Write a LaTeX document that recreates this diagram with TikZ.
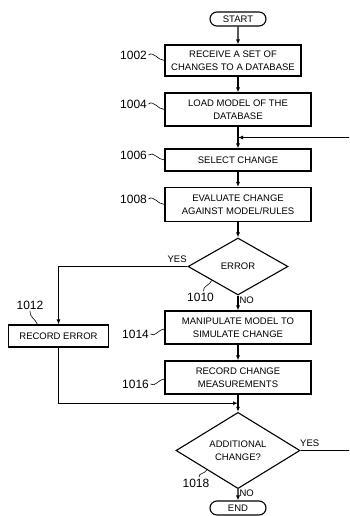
\documentclass[tikz,border=0pt]{standalone}
\usepackage{fontspec}
\setmainfont{Liberation Sans}
\usetikzlibrary{arrows.meta,positioning,shapes.geometric,shapes.misc,calc}

\begin{document}
\begin{tikzpicture}[x=1pt,y=1pt,>={Latex[length=5pt,width=4pt]},line width=1.1pt,
        font=\fontsize{9.5}{12.5}\selectfont,
        term/.style={draw,rounded rectangle,minimum width=56pt,minimum height=14pt,inner sep=0pt},
        proc/.style={draw,rectangle,minimum width=146pt,minimum height=33pt,inner sep=1pt,align=center},
        test/.style={draw,diamond,inner sep=0pt,align=center},
        tag/.style={inner sep=1pt},
        ref/.style={inner sep=1pt,font=\fontsize{12}{14}\selectfont},
        wiggle/.style={line width=0.6pt}]

        \clip (0,0) rectangle (349,-516);

        \node[term]  (start) at (238,-19)                                   {START};
        \node[proc]  (b1002) [below of=start, node distance=41.5pt, xshift=-5pt,
                              minimum width=136pt, minimum height=31pt]     {RECEIVE A SET OF\\CHANGES TO A DATABASE};
        \node[proc]  (b1004) [below of=b1002, node distance=49pt, xshift=5pt] {LOAD MODEL OF THE\\DATABASE};
        \node[proc]  (b1006) [below of=b1004, node distance=50.5pt, minimum height=22pt] {SELECT CHANGE};
        \node[proc]  (b1008) [below of=b1006, node distance=44.5pt, minimum height=34pt] {EVALUATE CHANGE\\AGAINST MODEL/RULES};
        \node[test]  (d1010) [below of=b1008, node distance=62pt,
                              minimum width=100pt, minimum height=57pt]     {ERROR};
        \node[proc]  (b1014) [below of=d1010, node distance=61pt]           {MANIPULATE MODEL TO\\SIMULATE CHANGE};
        \node[proc]  (b1016) [below of=b1014, node distance=50pt]           {RECORD CHANGE\\MEASUREMENTS};
        \node[test]  (d1018) [below of=b1016, node distance=73pt,
                              minimum width=124pt, minimum height=67pt]     {ADDITIONAL\\CHANGE?};
        \node[term]  (end)   [below of=d1018, node distance=57.5pt]         {END};
        \node[proc]  (b1012) at (58.5,-336) [minimum width=100pt, minimum height=22pt] {RECORD ERROR};

        % reference numerals
        \node[ref]   (l1002) [left=16pt of b1002.west, yshift=5.5pt]       {1002};
        \node[ref]   (l1004) [left=16pt of b1004.west, yshift=5.5pt]       {1004};
        \node[ref]   (l1006) [left=16pt of b1006.west, yshift=5pt]         {1006};
        \node[ref]   (l1008) [left=16pt of b1008.west, yshift=5.5pt]       {1008};
        \node[ref]   (l1014) [left=14pt of b1014.west, yshift=-6.5pt]      {1014};
        \node[ref]   (l1016) [left=14pt of b1016.west, yshift=-6.5pt]      {1016};
        \node[ref]   (l1010) at (200.5,-297)                               {1010};
        \node[ref]   (l1012) at (30,-305)                                  {1012};
        \node[ref]   (l1018) at (196,-483)                                 {1018};

        \coordinate (loopin) at ($(b1004.south)!0.5!(b1006.north)$);
        \coordinate (join)   at ($(b1016.south)!0.5!(d1018.north)$);

        \path[->]
                  (start)              edge                                (start |- b1002.north)
                  (b1002.south -| start) edge                              (b1004)
                  (b1004)              edge                                (b1006)
                  (b1006)              edge                                (b1008)
                  (b1008)              edge                                (d1010)
                  (d1010)              edge node [right,tag,pos=0.3] {NO}  (b1014)
                  (b1014)              edge                                (b1016)
                  (b1016)              edge                                (d1018)
                  (d1018)              edge node [right,tag,pos=0.35] {NO} (end);

        \draw[->] (d1010.west) -| node [above,tag,pos=0.04,yshift=2pt] {YES} (b1012);
        \draw[->] (b1012) |- (join);
        \draw[->] (d1018.east) -- node [above,tag,pos=0.15,yshift=2pt] {YES} ++(61,0) |- (loopin);

        % leader squiggles
        \draw[wiggle] (l1002.east) to[out=40,in=180] (b1002.west);
        \draw[wiggle] (l1004.east) to[out=40,in=180] (b1004.west);
        \draw[wiggle] (l1006.east) to[out=40,in=180] (b1006.west);
        \draw[wiggle] (l1008.east) to[out=40,in=180] (b1008.west);
        \draw[wiggle] (l1014.east) to[out=-40,in=180] ([yshift=-1.5pt]b1014.west);
        \draw[wiggle] (l1016.east) to[out=-40,in=180] ([yshift=-1.5pt]b1016.west);
        \draw[wiggle] ([xshift=3pt]l1010.north) to[out=100,in=-110] ($(d1010.west)!0.48!(d1010.south)$);
        \draw[wiggle] ([xshift=3pt]l1018.north) to[out=100,in=-110] ($(d1018.west)!0.5!(d1018.south)$);
        \draw[wiggle] (l1012.south) to[out=-100,in=110] ([xshift=-21pt]b1012.north);
\end{tikzpicture}
\end{document}
